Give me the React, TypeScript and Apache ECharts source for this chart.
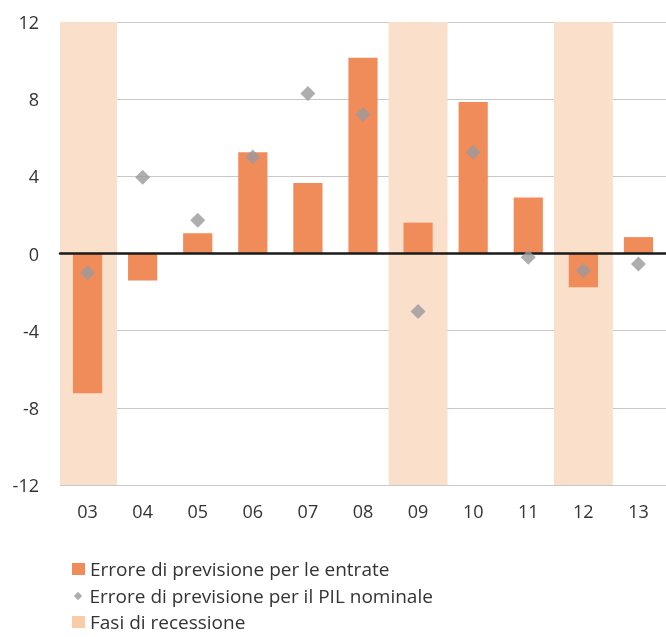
import React, { useEffect, useRef } from "react";
import * as echarts from "echarts";

const categories = ["03", "04", "05", "06", "07", "08", "09", "10", "11", "12", "13"];
const revenueError = [-7.25, -1.4, 1.05, 5.25, 3.65, 10.15, 1.6, 7.85, 2.9, -1.75, 0.85];
const gdpError = [-1.0, 3.95, 1.72, 5.0, 8.3, 7.2, -3.0, 5.25, -0.2, -0.88, -0.55];
const recession = [true, false, false, false, false, false, true, false, false, true, false];
const yTicks = { min: -12, max: 12, interval: 4 };

const NAME_BAR = "Errore di previsione per le entrate";
const NAME_PT = "Errore di previsione per il PIL nominale";
const NAME_REC = "Fasi di recessione";

const FONT = "'Open Sans', 'Noto Sans', sans-serif";

export default function App() {
  const ref = useRef<HTMLDivElement>(null);
  useEffect(() => {
    if (!ref.current) return;
    const chart = echarts.init(ref.current, undefined, { renderer: "svg" });
    const recUp = recession.map((r) => (r ? yTicks.max : null));
    const recDown = recession.map((r) => (r ? yTicks.min : null));
    const legendBase = {
      orient: "vertical",
      left: 72,
      padding: 0,
      itemWidth: 13,
      itemHeight: 12,
      itemGap: 0,
      textStyle: { fontSize: 19, color: "#333", fontFamily: FONT, lineHeight: 20 },
    };
    chart.setOption({
      animation: false,
      textStyle: { fontFamily: FONT },
      grid: { left: 60, right: 0, top: 22, bottom: 152, containLabel: false },
      legend: [
        { ...legendBase, top: 559, data: [{ name: NAME_BAR, icon: "rect" }] },
        {
          ...legendBase,
          top: 586,
          data: [{ name: NAME_PT, icon: "path://M0,0M20,20M3,10L10,3L17,10L10,17Z" }],
        },
        {
          ...legendBase,
          top: 612,
          data: [{ name: NAME_REC, icon: "rect", itemStyle: { color: "#F9CBA7" } }],
        },
      ],
      xAxis: [
        {
          type: "category",
          data: categories,
          z: 5,
          axisLine: { onZero: true, lineStyle: { color: "#1a1a1a", width: 2.5 } },
          axisTick: { show: false },
          axisLabel: { fontSize: 18, color: "#333", margin: 17, fontFamily: FONT },
        },
        { type: "category", data: categories, show: false },
      ],
      yAxis: {
        type: "value",
        min: yTicks.min,
        max: yTicks.max,
        interval: yTicks.interval,
        axisLine: { show: false },
        axisTick: { show: false },
        splitLine: { lineStyle: { color: "#c8c8c8", width: 1 } },
        axisLabel: { fontSize: 18, color: "#333", margin: 21, fontFamily: FONT },
      },
      series: [
        {
          name: NAME_REC,
          type: "bar",
          xAxisIndex: 1,
          data: recUp,
          barWidth: "107%",
          barGap: "-100%",
          itemStyle: { color: "#FADFCA" },
          z: 1,
        },
        {
          name: NAME_REC,
          type: "bar",
          xAxisIndex: 1,
          data: recDown,
          barWidth: "107%",
          barGap: "-100%",
          itemStyle: { color: "#FADFCA" },
          z: 1,
        },
        {
          name: NAME_BAR,
          type: "bar",
          xAxisIndex: 0,
          data: revenueError,
          barWidth: "53%",
          itemStyle: { color: "#F08C5A" },
          z: 2,
        },
        {
          name: NAME_PT,
          type: "scatter",
          xAxisIndex: 0,
          data: gdpError,
          symbol: "diamond",
          symbolSize: 15,
          itemStyle: { color: "#9a9a9c" },
          z: 6,
        },
      ],
    });
    return () => chart.dispose();
  }, []);
  return (
    <div
      ref={ref}
      style={{ position: "fixed", left: 0, top: 0, width: 666, height: 637 }}
    />
  );
}
